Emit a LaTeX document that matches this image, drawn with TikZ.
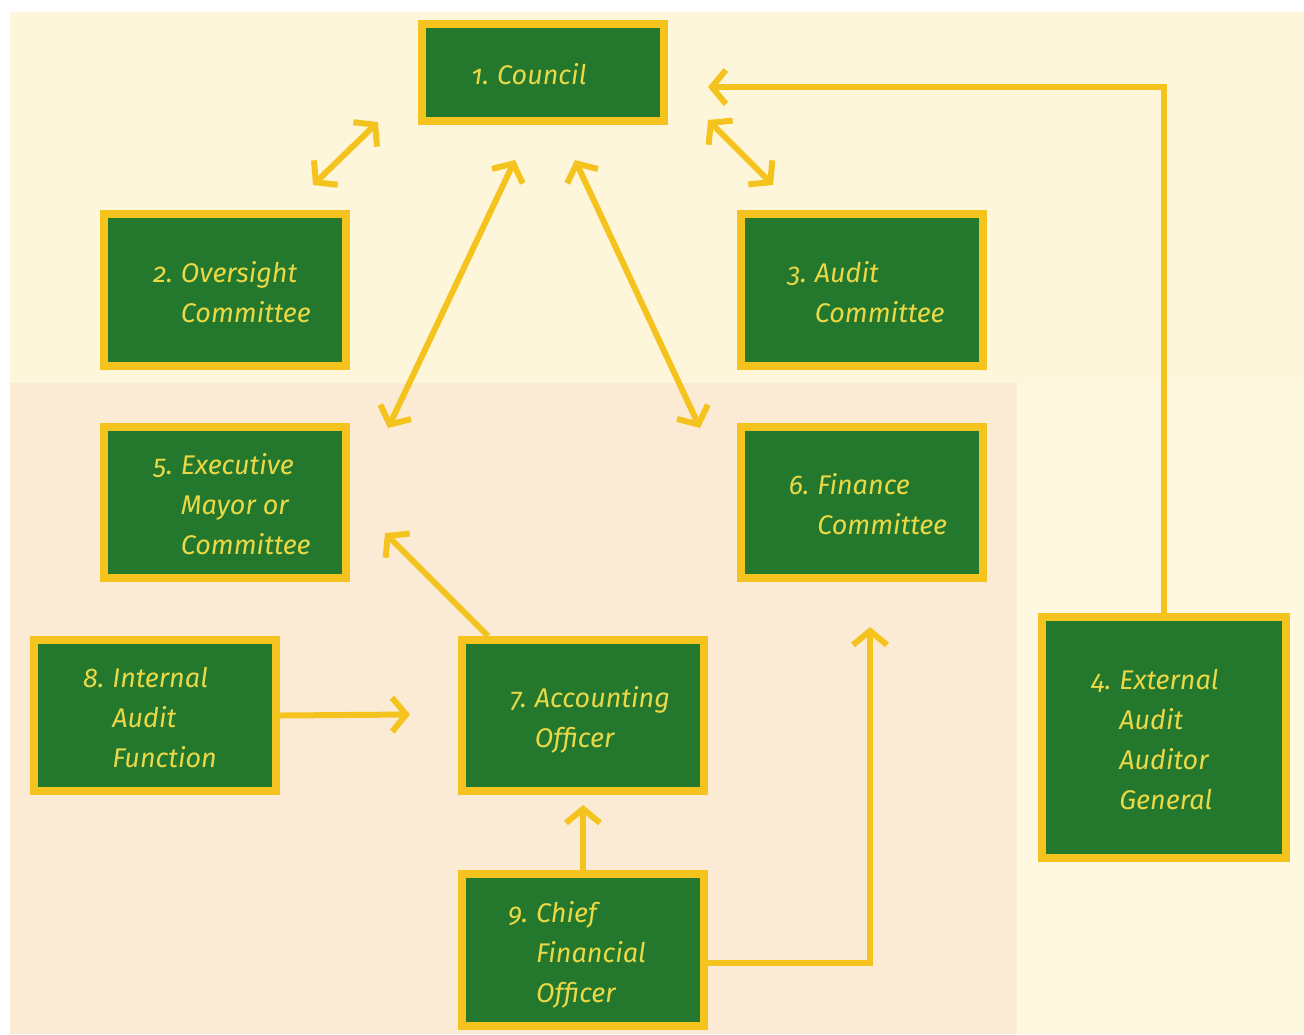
\documentclass[tikz,border=0pt]{standalone}
\usepackage{fontspec}
\setmainfont{Fira Sans}[Numbers=OldStyle]
\usetikzlibrary{arrows.meta,calc}
\definecolor{boxgreen}{HTML}{23782D}
\definecolor{boxyellow}{HTML}{F5C31E}
\definecolor{txtyellow}{HTML}{EBD846}
\definecolor{bgtop}{HTML}{FEF6DB}
\definecolor{bglow}{HTML}{FBEBD4}
\definecolor{bgright}{HTML}{FEF8E1}
\tikzset{
  box/.style={draw=boxyellow, fill=boxgreen, line width=8pt, inner sep=0pt,
    minimum width=242pt, minimum height=152pt, text=txtyellow,
    font=\fontsize{27}{40}\selectfont\itshape},
  link/.style={draw=boxyellow, line width=6pt},
  tip/.style={-{Straight Barb[length=14pt,width=34pt,line width=6pt]}},
  both/.style={{Straight Barb[length=14pt,width=34pt,line width=6pt]}-{Straight Barb[length=14pt,width=34pt,line width=6pt]}}
}
\newcommand{\lbl}[3]{\raisebox{-4pt}[\height][\depth]{\hspace*{#1}\begin{tabular}{@{}l@{\hspace{8pt}}l@{}}#2&#3\end{tabular}\hspace*{-#1}}}
\begin{document}
\begin{tikzpicture}[x=1pt,y=-1pt]
\useasboundingbox (0,0) rectangle (1304,1034);
\fill[white] (0,0) rectangle (1304,1034);
\fill[bgtop] (10,12) rectangle (1304,1034);
\fill[bglow] (10,383) rectangle (1017,1034);
\fill[bgright] (1017,383) rectangle (1304,1034);

\node[box, minimum height=97pt] (council) at (543,72.5) {\lbl{-14pt}{1.}{Council}};
\node[box] (oversight) at (225,290) {\lbl{7pt}{2.}{Oversight\\&Committee}};
\node[box] (audit) at (862,290) {\lbl{4pt}{3.}{Audit\\&Committee}};
\node[box, minimum height=151pt] (exec) at (225,502.5) {\lbl{7pt}{5.}{Executive\\&Mayor or\\&Committee}};
\node[box, minimum height=151pt] (finance) at (862,502.5) {\lbl{6pt}{6.}{Finance\\&Committee}};
\node[box, minimum height=151pt] (internal) at (155,715.5) {\lbl{-5pt}{8.}{Internal\\&Audit\\&Function}};
\node[box, minimum height=151pt] (acct) at (583,715.5) {\lbl{7pt}{7.}{Accounting\\&Officer}};
\node[box] (cfo) at (583,950) {\lbl{-6pt}{9.}{Chief\\&Financial\\&Officer}};
\node[box, minimum width=244pt, minimum height=241pt] (ext) at (1164,737.5) {\lbl{-9pt}{4.}{External\\&Audit\\&Auditor\\&General}};

\coordinate (c2a) at (378,122);
\coordinate (c2b) at (313,185);
\coordinate (c3a) at (708,120);
\coordinate (c3b) at (773,185);
\coordinate (c5a) at (515,160);
\coordinate (c5b) at (388,428);
\coordinate (c6a) at (575,160);
\coordinate (c6b) at (700,428);
\coordinate (c4end) at (708,87);
\coordinate (c7start) at (488,636);
\coordinate (c7end) at (385,533);
\coordinate (c8end) at (410,714.5);
\coordinate (c9end) at (583,805);
\coordinate (c9start) at (708,963);
\coordinate (c9fin) at (870,627);

\draw[link,both] (c2a) -- (c2b);
\draw[link,both] (c3a) -- (c3b);
\draw[link,both] (c5a) -- (c5b);
\draw[link,both] (c6a) -- (c6b);
\draw[link,tip] (ext.north) |- (c4end);
\draw[link,tip] (c7start) -- (c7end);
\draw[link,tip] (internal.east) -- (c8end);
\draw[link,tip] (cfo.north) -- (c9end);
\draw[link,tip] (c9start) -| (c9fin);
\end{tikzpicture}
\end{document}
